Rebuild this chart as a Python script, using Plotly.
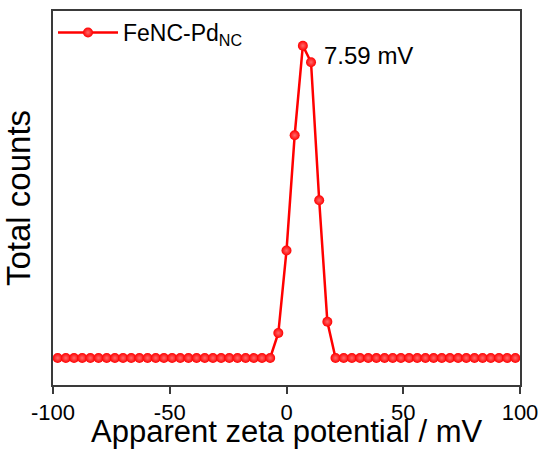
import plotly.graph_objects as go

# Zeta potential distribution (bin centres in mV, step 3.5 mV)
zeta_mv = [round(-98 + 3.5 * i, 1) for i in range(57)]

# Total counts per bin: zero outside the peak region
peak_bins = {-3.5: 8000, 0.0: 34400, 3.5: 71300, 7.0: 100000,
             10.5: 94700, 14.0: 50500, 17.5: 11600}
total_counts = [peak_bins.get(z, 0) for z in zeta_mv]

series_name = "FeNC-Pd<sub>NC</sub>"
mean_label = "7.59 mV"
x_title = "Apparent zeta potential / mV"
y_title = "Total counts"
x_ticks = [-100, -50, 0, 50, 100]
x_tick_text = ["-100", "-50", "0", "50", "100"]

FONT = "Liberation Sans, Arial, sans-serif"
RED = "#ff0000"
AXIS = "#3a3a3a"

fig = go.Figure()
fig.add_trace(go.Scatter(
    x=zeta_mv, y=total_counts, mode="lines+markers", name=series_name,
    line=dict(color=RED, width=2.5),
    marker=dict(size=10, color=RED, line=dict(width=0),
                gradient=dict(type="radial", color="#ff6a6a")),
))

# Mean zeta potential label next to the peak
fig.add_annotation(
    x=15.4, y=96900, xref="x", yref="y", text=mean_label,
    showarrow=False, xanchor="left", yanchor="middle",
    font=dict(family=FONT, size=24, color="black"),
)

# x-axis title, placed just under the tick labels
fig.add_annotation(
    x=0.5, y=0, xref="paper", yref="paper", text=x_title,
    showarrow=False, xanchor="center", yanchor="middle", yshift=-46,
    font=dict(family=FONT, size=31, color="black"),
)

axis_common = dict(
    showline=True, linecolor=AXIS, linewidth=2, mirror=True,
    showgrid=False, zeroline=False, automargin=False,
)

fig.update_layout(
    width=544, height=454,
    margin=dict(l=53, r=24, t=11, b=69),
    paper_bgcolor="white", plot_bgcolor="white",
    font=dict(family=FONT, color="black"),
    showlegend=True,
    legend=dict(x=0.0, y=1.0, xanchor="left", yanchor="top",
                bgcolor="rgba(0,0,0,0)", itemwidth=60,
                font=dict(family=FONT, size=23, color="black")),
    xaxis=dict(
        **axis_common, range=[-100, 100], tickvals=x_ticks, ticktext=x_tick_text,
        ticks="outside", ticklen=7, tickwidth=1.5, tickcolor=AXIS,
        tickfont=dict(family=FONT, size=22, color="black"),
    ),
    yaxis=dict(
        **axis_common, range=[-8650, 111100], showticklabels=False, ticks="",
        title=dict(text=y_title,
                   font=dict(family=FONT, size=33, color="black"), standoff=10),
    ),
)

fig.write_html("out.html")
